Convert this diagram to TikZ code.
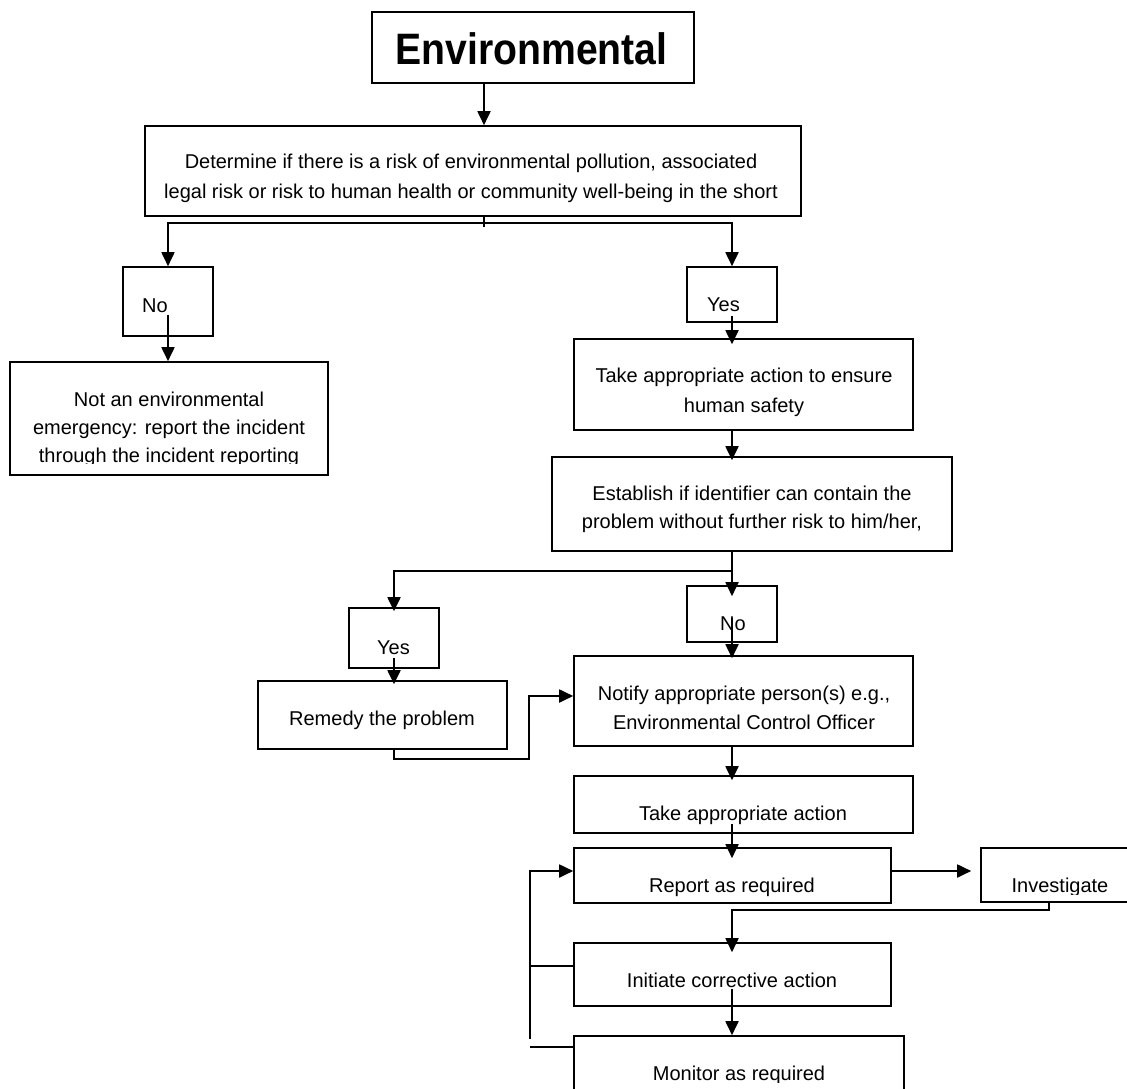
\documentclass[tikz,border=0pt]{standalone}
\usepackage{fontspec}
\setmainfont{Liberation Sans}
\newfontfamily\titlefont[FakeStretch=0.89]{Liberation Sans}
\usetikzlibrary{arrows.meta,calc}
\begin{document}
\begin{tikzpicture}[x=1pt,y=-1pt,
  box/.style={draw, line width=1.6pt, inner sep=0pt},
  txt/.style={inner sep=0pt, font=\fontsize{20pt}{30pt}\selectfont, align=center},
  conn/.style={line width=1.8pt},
  arr/.style={conn, -{Triangle[width=13pt,length=14pt]}}]
\useasboundingbox (0,0) rectangle (1127,1089);
\fill[white] (0,0) rectangle (1127,1089);

% helper coordinates
\coordinate (xT) at (484,0);
\coordinate (yB1) at (0,223);
\coordinate (yB2) at (0,571);
\coordinate (yRem) at (0,759);
\coordinate (xM) at (529,0);
\coordinate (yN) at (0,696);
\coordinate (yR) at (0,871);
\coordinate (xInv) at (1049,0);
\coordinate (yInv) at (0,910);
\coordinate (yI) at (0,966);
\coordinate (yM) at (0,1047);
\coordinate (yV) at (0,1039);
\coordinate (xLoop) at (530,0);

% boxes
\node[box, minimum width=322pt, minimum height=71pt] (title) at (533,47.5) {};
\node[box, minimum width=656pt, minimum height=90pt] (b2) at (473,171) {};
\node[box, minimum width=90pt, minimum height=69pt] (noL) at (168,301.5) {};
\node[box, minimum width=318pt, minimum height=113pt] (notenv) at (169,418.5) {};
\node[box, minimum width=90pt, minimum height=55pt] (yesR) at (732,294.5) {};
\node[box, minimum width=339pt, minimum height=91pt] (take) at (743.5,384.5) {};
\node[box, minimum width=400pt, minimum height=94pt] (estab) at (752,504) {};
\node[box, minimum width=90pt, minimum height=56pt] (noR) at (732,614) {};
\node[box, minimum width=90pt, minimum height=60pt] (yesL) at (394,638) {};
\node[box, minimum width=249pt, minimum height=68pt] (remedy) at (382.5,715) {};
\node[box, minimum width=339pt, minimum height=90pt] (notify) at (743.5,701) {};
\node[box, minimum width=339pt, minimum height=57pt] (take2) at (743.5,804.5) {};
\node[box, minimum width=317pt, minimum height=55pt] (report) at (732.5,875.5) {};
\node[box, minimum width=179pt, minimum height=54pt] (invest) at (1070.5,875) {};
\node[box, minimum width=317pt, minimum height=63pt] (initiate) at (732.5,974.5) {};
\node[box, minimum width=330pt, minimum height=74pt] (monitor) at (739,1073) {};

% texts
\node[inner sep=0pt, anchor=base, font=\titlefont\bfseries\fontsize{44pt}{44pt}\selectfont] (ttitle) at (531.5,65) {Environmental};
\node[txt] (tb2) at (471,178) {Determine if there is a risk of environmental pollution, associated\\legal risk or risk to human health or community well-being in the short};
\node[txt, anchor=base] (tnoL) at (155,312) {No};
\begin{scope}
\clip (0,362) rectangle (340,463);
\node[txt, font=\fontsize{20pt}{28pt}\selectfont] (tnotenv) at (169,429) {Not an environmental\\emergency: report the incident\\through the incident reporting};
\end{scope}
\node[txt, anchor=base] (tyesR) at (723.5,311) {Yes};
\node[txt] (ttake) at (744,392) {Take appropriate action to ensure\\human safety};
\node[txt, font=\fontsize{20pt}{28pt}\selectfont] (testab) at (752,509) {Establish if identifier can contain the\\problem without further risk to him/her,};
\node[txt, anchor=base] (tnoR) at (733,630) {No};
\node[txt, anchor=base] (tyesL) at (393.5,654) {Yes};
\node[txt, anchor=base] (tremedy) at (382,725) {Remedy the problem};
\node[txt, font=\fontsize{20pt}{29pt}\selectfont] (tnotify) at (744,707.5) {Notify appropriate person(s) e.g.,\\Environmental Control Officer};
\node[txt, anchor=base] (ttake2) at (743,820) {Take appropriate action};
\node[txt, anchor=base] (treport) at (732,892) {Report as required};
\begin{scope}
\clip (960,840) rectangle (1127,894);
\node[txt, anchor=base] (tinvest) at (1060,892) {Investigate};
\end{scope}
\node[txt, anchor=base] (tinit) at (732,987) {Initiate corrective action};
\begin{scope}
\clip (560,1030) rectangle (920,1082);
\node[txt, anchor=base] (tmonitor) at (739,1080) {Monitor as required};
\end{scope}

% connectors
\draw[arr] (title.south -| xT) -- (b2.north -| xT);
\draw[conn] (b2.south -| xT) -- ($(b2.south -| xT)+(0,10)$);
\draw[conn, {Triangle[width=13pt,length=14pt]}-{Triangle[width=13pt,length=14pt]}]
  (noL.north) -- (noL.north |- yB1) -- (yesR.north |- yB1) -- (yesR.north);
\draw[arr] ($(noL.south)+(0,-22)$) -- (notenv.north -| noL.south);
\draw[arr] ($(yesR.south)+(0,-7)$) -- ($(yesR.south |- take.north)+(0,6)$);
\draw[arr] (take.south -| yesR.south) -- ($(yesR.south |- estab.north)+(0,4)$);
\draw[arr] (estab.south -| noR.north) -- ($(noR.north)+(0,11)$);
\draw[arr] (noR.north |- yB2) -- (yesL.north |- yB2) -- ($(yesL.north)+(0,4)$);
\draw[arr] ($(noR.south)+(0,-25)$) -- ($(noR.south |- notify.north)+(0,3)$);
\draw[arr] ($(yesL.south)+(0,-11)$) -- ($(yesL.south |- remedy.north)+(0,4)$);
\draw[arr] (remedy.south -| yesL.south) -- (yesL.south |- yRem) -- (xM |- yRem) -- (xM |- yN) -- (notify.west |- yN);
\draw[arr] (notify.south -| noR.south) -- ($(noR.south |- take2.north)+(0,5)$);
\draw[arr] ($(take2.south -| noR.south)+(0,-10)$) -- ($(noR.south |- report.north)+(0,11)$);
\draw[arr] (report.east |- yR) -- ($(invest.west |- yR)+(-9,0)$);
\draw[arr] (invest.south -| xInv) -- (xInv |- yInv) -- (noR.south |- yInv) -- ($(noR.south |- initiate.north)+(0,10)$);
\draw[arr] ($(initiate.south -| noR.south)+(0,-18)$) -- (monitor.north -| noR.south);
\draw[conn] (initiate.west |- yI) -- (xLoop |- yI);
\draw[conn] (monitor.west |- yM) -- (xLoop |- yM);
\draw[arr] (xLoop |- yV) -- (xLoop |- yR) -- (report.west |- yR);
\end{tikzpicture}
\end{document}
